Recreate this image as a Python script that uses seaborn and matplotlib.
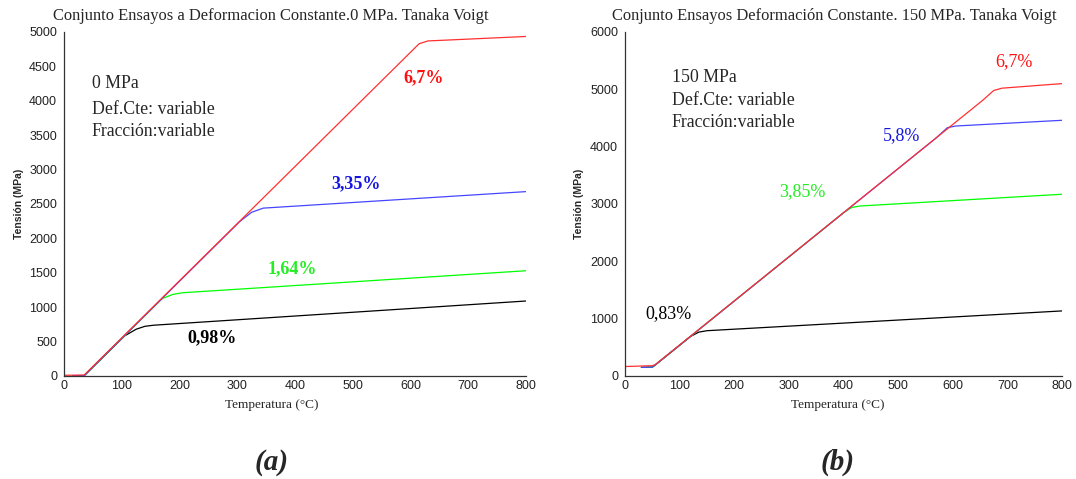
import numpy as np
import pandas as pd
import matplotlib
matplotlib.use("Agg")
import matplotlib.pyplot as plt
import seaborn as sns

# ---- 0 MPa set: temperature (°C) / stress (MPa) vertices for each strain level ----
t_a_098 = [15, 35, 105, 125, 140, 155, 800]
s_a_098 = [5, 5, 583, 680, 722, 738, 1090]
t_a_164 = [15, 35, 170, 188, 205, 800]
s_a_164 = [5, 5, 1125, 1185, 1210, 1530]
t_a_335 = [15, 35, 305, 325, 345, 800]
s_a_335 = [5, 5, 2250, 2380, 2440, 2680]
t_a_670 = [0, 35, 615, 630, 800]
s_a_670 = [10, 15, 4830, 4870, 4935]

# ---- 150 MPa set ----
t_b_083 = [30, 50, 55, 120, 135, 150, 800]
s_b_083 = [150, 155, 190, 690, 765, 790, 1135]
t_b_385 = [30, 50, 55, 400, 415, 430, 800]
s_b_385 = [150, 155, 190, 2847, 2940, 2965, 3170]
t_b_580 = [30, 50, 55, 570, 590, 605, 800]
s_b_580 = [150, 155, 190, 4155, 4330, 4360, 4460]
t_b_670 = [0, 50, 55, 655, 675, 690, 800]
s_b_670 = [165, 180, 195, 4810, 4980, 5020, 5100]

labels_a = ["0,98%", "1,64%", "3,35%", "6,7%"]
labels_b = ["0,83%", "3,85%", "5,8%", "6,7%"]
# label anchor positions (temperature, stress)
lab_a_t = [256, 395, 505, 622]
lab_a_s = [555, 1555, 2800, 4330]
lab_b_t = [80, 324, 507, 712]
lab_b_s = [1080, 3210, 4200, 5480]

x_ticks = list(range(0, 801, 100))
y_ticks_a = list(range(0, 5001, 500))
y_ticks_b = list(range(0, 6001, 1000))

line_colors = ["#000000", "#00ff00", "#4646ff", "#ff3030"]
text_colors = ["#000000", "#22ee22", "#1515e0", "#ff1010"]


def long_table(ts, ss, names):
    frames = []
    for t, s, n in zip(ts, ss, names):
        frames.append(pd.DataFrame({"T": t, "S": s, "serie": n}))
    return pd.concat(frames, ignore_index=True)


df_a = long_table([t_a_098, t_a_164, t_a_335, t_a_670],
                  [s_a_098, s_a_164, s_a_335, s_a_670], labels_a)
df_b = long_table([t_b_083, t_b_385, t_b_580, t_b_670],
                  [s_b_083, s_b_385, s_b_580, s_b_670], labels_b)

sns.set_style("white")
plt.rcParams["font.family"] = ["DejaVu Sans"]
plt.rcParams["xtick.direction"] = "in"
plt.rcParams["ytick.direction"] = "in"

W, H = 1076, 479
fig = plt.figure(figsize=(W / 100, H / 100), dpi=100)
ax_a = fig.add_axes([64 / W, 1 - 376 / H, 462 / W, 344 / H])
ax_b = fig.add_axes([625 / W, 1 - 376 / H, 437 / W, 344 / H])

serif = "Liberation Serif"
sans = "Liberation Sans"


def draw(ax, df, names, yticks, ymax, lab_t, lab_s, bold_labels, title, title_x,
         xlabel_x, notes, note_pos):
    sns.lineplot(data=df, x="T", y="S", hue="serie", hue_order=names,
                 palette=dict(zip(names, line_colors)), estimator=None,
                 sort=False, linewidth=0.9, legend=False, ax=ax)
    ax.set_xlim(0, 800)
    ax.set_ylim(0, ymax)
    ax.set_xticks(x_ticks)
    ax.set_yticks(yticks)
    ax.tick_params(labelsize=9, length=4, width=0.8, colors="#222222")
    ax.tick_params(axis="y", pad=5)
    ax.tick_params(axis="x", pad=3)
    for lab in ax.get_xticklabels() + ax.get_yticklabels():
        lab.set_family(sans)
    for side in ("top", "right"):
        ax.spines[side].set_visible(False)
    for side in ("left", "bottom"):
        ax.spines[side].set_color("#333333")
        ax.spines[side].set_linewidth(0.9)
    ax.set_xlabel("")
    ax.set_ylabel("Tensión (MPa)", family=sans, fontsize=7.5, fontweight="bold", labelpad=4)
    fig.text(title_x / W, 1 - 16 / H, title, family=serif, fontsize=11.9,
             ha="center", va="center")
    fig.text(xlabel_x / W, 1 - 405 / H, "Temperatura (°C)", family=serif,
             fontsize=9.5, ha="center", va="center")
    for n, t, s, c in zip(names, lab_t, lab_s, text_colors):
        ax.text(t, s, n, color=c, family=serif, fontsize=13,
                fontweight="bold" if bold_labels else "normal",
                ha="center", va="center")
    for line, (t, s) in zip(notes, note_pos):
        ax.text(t, s, line, family=serif, fontsize=12.8, ha="left", va="center")


draw(ax_a, df_a, labels_a, y_ticks_a, 5000, lab_a_t, lab_a_s, True,
     "Conjunto Ensayos a Deformacion Constante.0 MPa. Tanaka Voigt", 271, 272,
     ["0 MPa", "Def.Cte: variable", "Fracción:variable"],
     [(48, 4245), (48, 3880), (48, 3560)])
draw(ax_b, df_b, labels_b, y_ticks_b, 6000, lab_b_t, lab_b_s, False,
     "Conjunto Ensayos Deformación Constante. 150 MPa. Tanaka Voigt", 834, 838,
     ["150 MPa", "Def.Cte: variable", "Fracción:variable"],
     [(86, 5200), (86, 4810), (86, 4430)])

fig.text(272 / W, 1 - 462 / H, "(a)", family=serif, fontsize=21,
         fontweight="bold", style="italic", ha="center", va="center")
fig.text(838 / W, 1 - 462 / H, "(b)", family=serif, fontsize=21,
         fontweight="bold", style="italic", ha="center", va="center")

fig.savefig("out.png", dpi=100, facecolor="white")
